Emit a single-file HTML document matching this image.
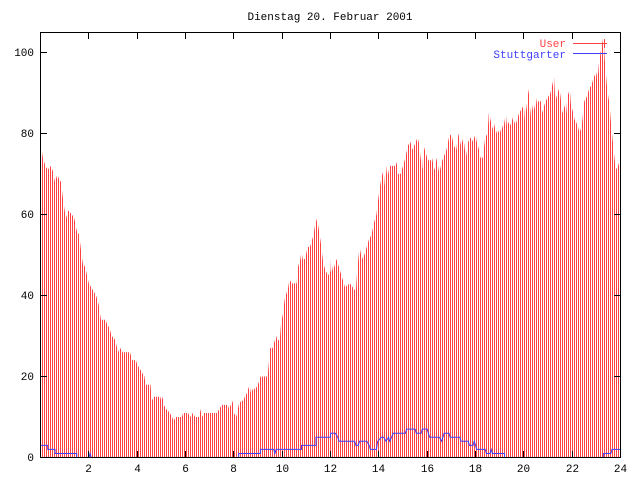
<!DOCTYPE html>
<html><head><meta charset="utf-8"><style>
html,body{margin:0;padding:0;background:#fff}
svg text{font-family:"Liberation Mono","DejaVu Sans Mono",monospace;font-size:11px}
</style></head><body>
<svg width="640" height="480" xmlns="http://www.w3.org/2000/svg">
<defs>
<pattern id="pr" x="40" y="0" width="2" height="480" patternUnits="userSpaceOnUse"><rect x="0" y="0" width="1" height="480" fill="#ff4040" shape-rendering="crispEdges"/></pattern>
<clipPath id="env"><polygon transform="translate(40.5,457.5) scale(24.167,-4.05)" points="-0.05,76 0.05,76 0.1,74 0.2,72 0.3,71 0.4,72 0.5,71 0.6,68 0.7,70 0.75,69 0.85,68 0.95,63 1.05,59 1.15,61 1.3,60 1.4,59 1.5,56 1.6,55 1.7,50 1.75,48 1.85,47 2.0,43 2.1,42 2.2,41 2.3,40 2.4,38 2.5,34 2.7,34 2.75,33 2.85,32 2.95,30 3.1,29 3.2,26 3.3,27 3.4,26 3.7,26 3.8,24 3.95,24 4.0,23 4.1,22 4.2,21 4.3,20 4.35,18 4.55,18 4.6,14 4.7,15 4.95,15 5.0,14 5.05,15 5.1,13 5.2,12 5.35,11 5.45,10 5.5,9 5.6,10 5.85,10 5.9,11 6.1,11 6.2,10 6.3,11 6.4,10 6.55,10 6.6,12 6.7,10 6.75,11 7.3,11 7.4,12 7.5,13 7.75,13 7.8,12 7.95,14 8.0,11 8.1,10 8.2,13 8.3,14 8.4,14 8.45,15 8.55,16 8.65,18 8.7,16 8.8,17 8.9,17 9.0,18 9.1,20 9.4,20 9.5,27 9.6,27 9.7,29 9.75,30 9.8,29 9.9,29 9.95,33 10.05,36 10.1,39 10.2,41 10.25,42 10.3,44 10.4,43 10.6,43 10.65,48 10.7,47 10.8,51 10.85,49 10.95,49 11.05,52 11.15,52 11.2,53 11.3,55 11.4,59 11.5,57 11.6,53 11.7,48 11.8,46 11.9,45 12.0,46 12.02,49 12.1,46 12.25,49 12.35,47 12.5,44 12.6,42 12.8,43 13.05,41 13.1,46 13.2,52 13.3,49 13.4,50 13.5,52 13.6,54 13.7,55 13.8,58 13.9,60 14.0,65 14.1,69 14.2,71 14.25,67 14.3,72 14.35,69 14.45,72 14.7,72 14.75,73 14.8,70 14.9,70 15.1,74 15.2,77 15.3,78 15.4,76 15.6,79 15.65,78 15.75,73 15.8,71 15.85,77 16.0,74 16.1,73 16.2,74 16.3,71 16.4,74 16.5,70 16.6,73 16.8,76 16.9,79 17.0,80 17.1,77 17.2,76 17.3,80 17.4,77 17.5,79 17.6,74 17.7,78 17.8,79 17.9,78 18.0,80 18.05,78 18.15,76 18.2,74 18.3,74 18.4,79 18.5,80 18.55,85 18.6,84 18.7,81 18.75,83 18.85,80 18.9,81 19.0,80 19.1,82 19.15,81 19.25,85 19.3,82 19.4,83 19.45,82 19.55,84 19.65,82 19.7,83 19.8,85 19.9,86 20.0,87 20.05,83 20.1,86 20.2,91 20.25,87 20.3,84 20.4,88 20.45,86 20.5,89 20.55,87 20.6,88 20.7,88 20.75,85 20.9,88 21.1,90 21.25,94 21.3,88 21.4,90 21.45,91 21.5,90 21.6,85 21.7,87 21.75,85 21.8,89 21.9,91 21.95,87 22.05,85 22.15,82 22.2,83 22.3,80 22.4,82 22.5,88 22.6,89 22.7,91 22.8,92 22.9,94 23.0,95 23.05,93 23.1,97 23.2,101 23.3,104 23.35,98 23.45,91 23.55,87 23.6,83 23.7,77 23.8,71 23.9,72 24.0,74 24.05,74 24.05,0 -0.05,0"/></clipPath>
</defs>
<rect width="640" height="480" fill="#fff"/>
<rect x="40" y="30" width="581" height="428" fill="url(#pr)" clip-path="url(#env)"/>
<polyline fill="none" stroke="#4040ff" stroke-width="1" vector-effect="non-scaling-stroke" transform="translate(40.5,457.5) scale(24.167,-4.05)" points="0,3 0.3,3 0.3,2 0.6,2 0.6,1 1.5,1 1.5,0 2.0,0 2.05,1 2.1,0 8.2,0 8.2,1 9.1,1 9.1,2 9.65,2 9.7,1 9.75,2 10.8,2 10.8,3 11.4,3 11.4,5 12.0,5 12.0,6 12.2,6 12.3,5 12.35,4 13.0,4 13.05,3 13.15,3 13.2,4 13.5,4 13.6,3 13.65,2 13.9,2 13.95,4 14.1,5 14.2,5 14.3,4 14.4,5 14.45,4 14.6,6 15.1,6 15.15,7 15.5,7 15.55,6 15.75,6 15.8,7 16.0,7 16.1,5 16.5,5 16.6,4 16.7,6 16.9,6 16.95,5 17.35,5 17.4,4 17.7,4 17.75,3 17.9,3 17.95,4 18.05,2 18.4,2 18.45,1 18.6,1 18.65,2 18.7,1 19.2,1 19.2,0 23.3,0 23.3,1 23.6,1 23.65,2 24,2"/>
<rect x="40.5" y="32.5" width="580" height="425" fill="none" stroke="#000"/>
<path fill="none" stroke="#000" d="M40.5 457.5H47M614 457.5H620.5M40.5 376.5H47M614 376.5H620.5M40.5 295.5H47M614 295.5H620.5M40.5 214.5H47M614 214.5H620.5M40.5 133.5H47M614 133.5H620.5M40.5 52.5H47M614 52.5H620.5
M88.5 457.5V451M88.5 32.5V39M137.5 457.5V451M137.5 32.5V39M185.5 457.5V451M185.5 32.5V39M233.5 457.5V451M233.5 32.5V39M282.5 457.5V451M282.5 32.5V39M330.5 457.5V451M330.5 32.5V39M378.5 457.5V451M378.5 32.5V39M427.5 457.5V451M427.5 32.5V39M475.5 457.5V451M475.5 32.5V39M523.5 457.5V451M523.5 32.5V39M572.5 457.5V451M572.5 32.5V39"/>
<g text-anchor="end">
<text x="34" y="461">0</text><text x="34" y="380">20</text><text x="34" y="299">40</text><text x="34" y="218">60</text><text x="34" y="137">80</text><text x="34" y="56">100</text>
</g>
<g text-anchor="middle">
<text x="88.5" y="472">2</text><text x="137.5" y="472">4</text><text x="185.5" y="472">6</text><text x="233.5" y="472">8</text><text x="282.5" y="472">10</text><text x="330.5" y="472">12</text><text x="378.5" y="472">14</text><text x="427.5" y="472">16</text><text x="475.5" y="472">18</text><text x="523.5" y="472">20</text><text x="572.5" y="472">22</text><text x="620.5" y="472">24</text>
</g>
<text x="330" y="20" text-anchor="middle">Dienstag 20. Februar 2001</text>
<text x="566" y="47" text-anchor="end" fill="#ff4040">User</text>
<line x1="573" y1="43.5" x2="607" y2="43.5" stroke="#ff4040"/>
<line x1="604.5" y1="39" x2="604.5" y2="48" stroke="#ff4040"/>
<text x="566" y="58" text-anchor="end" fill="#4040ff">Stuttgarter</text>
<line x1="573" y1="53.5" x2="607" y2="53.5" stroke="#4040ff"/>
</svg>
</body></html>
